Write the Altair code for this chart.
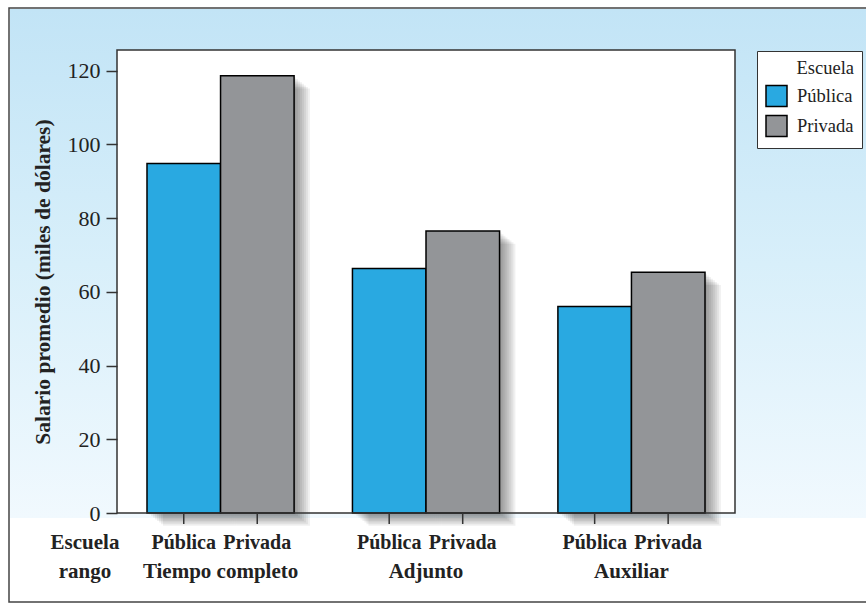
import altair as alt
import pandas as pd

# Average salary (thousands of dollars) by rank and school type
rango = ["Tiempo completo", "Adjunto", "Auxiliar"]
escuelas = ["Pública", "Privada"]
salario_publica = [94.8, 66.3, 56.0]
salario_privada = [118.6, 76.5, 65.3]
colores = ["#29a9e1", "#939598"]
y_ticks = [0, 20, 40, 60, 80, 100, 120]

rows = []
for r, pu, pr in zip(rango, salario_publica, salario_privada):
    rows.append({"rango": r, "escuela": "Pública", "salario": pu})
    rows.append({"rango": r, "escuela": "Privada", "salario": pr})
df = pd.DataFrame(rows)
df_rango = pd.DataFrame({"rango": rango})
one = alt.Data(values=[{}])

W, H = 618, 463
GROUP_W = 147  # pixel width of one rank group (two bars)
FONT = "Liberation Serif"
INK = "#222222"
EDGE = "#333333"

x_enc = alt.X("rango:N", sort=rango, axis=None,
              scale=alt.Scale(paddingInner=0.284, paddingOuter=0.146))
xo_enc = alt.XOffset("escuela:N", sort=escuelas,
                     scale=alt.Scale(paddingInner=0, paddingOuter=0))
# offset used by labels: one point at the centre of each bar
xo_point = alt.XOffset("escuela:N", sort=escuelas,
                       scale=alt.Scale(type="point", padding=0.5, range=[0, GROUP_W]))
y_enc = alt.Y(
    "salario:Q",
    scale=alt.Scale(domain=[0, 125.6], nice=False),
    axis=alt.Axis(
        values=y_ticks, title="Salario promedio (miles de dólares)",
        domain=False, grid=False, tickSize=11, tickWidth=1.5, tickColor=EDGE,
        labelFont=FONT, labelFontSize=22, labelColor=INK, labelPadding=6,
        titleFont=FONT, titleFontSize=21.5, titleFontWeight="bold",
        titleColor=INK, titlePadding=13, zindex=1,
    ),
)

# panel background: white frame with a light blue gradient on top
panel = alt.Chart(one).mark_rect(fill="white", stroke="#444444", strokeWidth=1.5).encode(
    x=alt.value(-108), x2=alt.value(W + 160), y=alt.value(-42), y2=alt.value(H + 89))
gradient = alt.Chart(one).mark_rect(
    color=alt.LinearGradient(
        gradient="linear", x1=0, x2=0, y1=0, y2=1,
        stops=[alt.GradientStop(offset=0, color="#c2e4f6"),
               alt.GradientStop(offset=0.5, color="#d8effa"),
               alt.GradientStop(offset=1, color="#f1f9fe")]),
).encode(x=alt.value(-107), x2=alt.value(W + 160), y=alt.value(-41), y2=alt.value(H + 5))
plot_bg = alt.Chart(one).mark_rect(fill="white").encode(
    x=alt.value(0), x2=alt.value(W), y=alt.value(0), y2=alt.value(H))

base = alt.Chart(df)

# soft drop shadow behind the bars: copies shifted right and down
shadows = [
    base.mark_bar(color="#000000", opacity=0.06, yOffset=d * 0.8, y2Offset=d * 0.8)
    .encode(
        x=x_enc,
        xOffset=alt.XOffset("escuela:N", sort=escuelas,
                            scale=alt.Scale(paddingInner=0, paddingOuter=0,
                                            range=[d, GROUP_W + d])),
        y=y_enc,
    )
    for d in range(2, 17, 2)
]

bars = base.mark_bar(stroke="black", strokeWidth=1.5, opacity=1).encode(
    x=x_enc, xOffset=xo_enc, y=y_enc,
    color=alt.Color(
        "escuela:N", sort=escuelas,
        scale=alt.Scale(domain=escuelas, range=colores),
        legend=alt.Legend(
            title="Escuela", orient="none", legendX=640, legendY=1,
            fillColor="white", strokeColor=EDGE, padding=8,
            titleFont=FONT, titleFontSize=18.5, titleFontWeight="normal",
            titleColor=INK, titleAnchor="end", titlePadding=7,
            labelFont=FONT, labelFontSize=18.5, labelColor=INK, labelOffset=9,
            symbolType="square", symbolSize=441, symbolStrokeColor="black",
            symbolStrokeWidth=1.5, symbolOpacity=1, rowPadding=3,
        ),
    ),
)

frame = alt.Chart(one).mark_rect(fillOpacity=0, stroke=EDGE, strokeWidth=1.5).encode(
    x=alt.value(0), x2=alt.value(W), y=alt.value(0), y2=alt.value(H))

ticks = base.mark_rule(color=EDGE, strokeWidth=1.5).encode(
    x=x_enc, xOffset=xo_point, y=alt.value(H), y2=alt.value(H + 11))

txt = dict(font=FONT, fontSize=21, fontWeight="bold", color=INK,
           align="center", baseline="middle")
school_labels = base.mark_text(**{**txt, "fontSize": 20}).encode(
    x=x_enc, xOffset=xo_point, y=alt.value(H + 30), text="escuela:N")
rank_labels = alt.Chart(df_rango).mark_text(**txt).encode(
    x=x_enc, y=alt.value(H + 59), text="rango:N")
row_name_1 = alt.Chart(one).mark_text(text="Escuela", **txt).encode(
    x=alt.value(-32), y=alt.value(H + 30))
row_name_2 = alt.Chart(one).mark_text(text="rango", **txt).encode(
    x=alt.value(-32), y=alt.value(H + 59))

chart = alt.layer(
    panel, gradient, plot_bg, *shadows, bars, frame, ticks,
    school_labels, rank_labels, row_name_1, row_name_2,
).resolve_scale(xOffset="independent").properties(
    width=W, height=H, autosize="none",
    padding={"left": 117, "top": 50, "right": 131, "bottom": 93},
).configure(background="white").configure_view(stroke=None)

chart.save("out.html", embed_options={"renderer": "svg", "actions": False})
